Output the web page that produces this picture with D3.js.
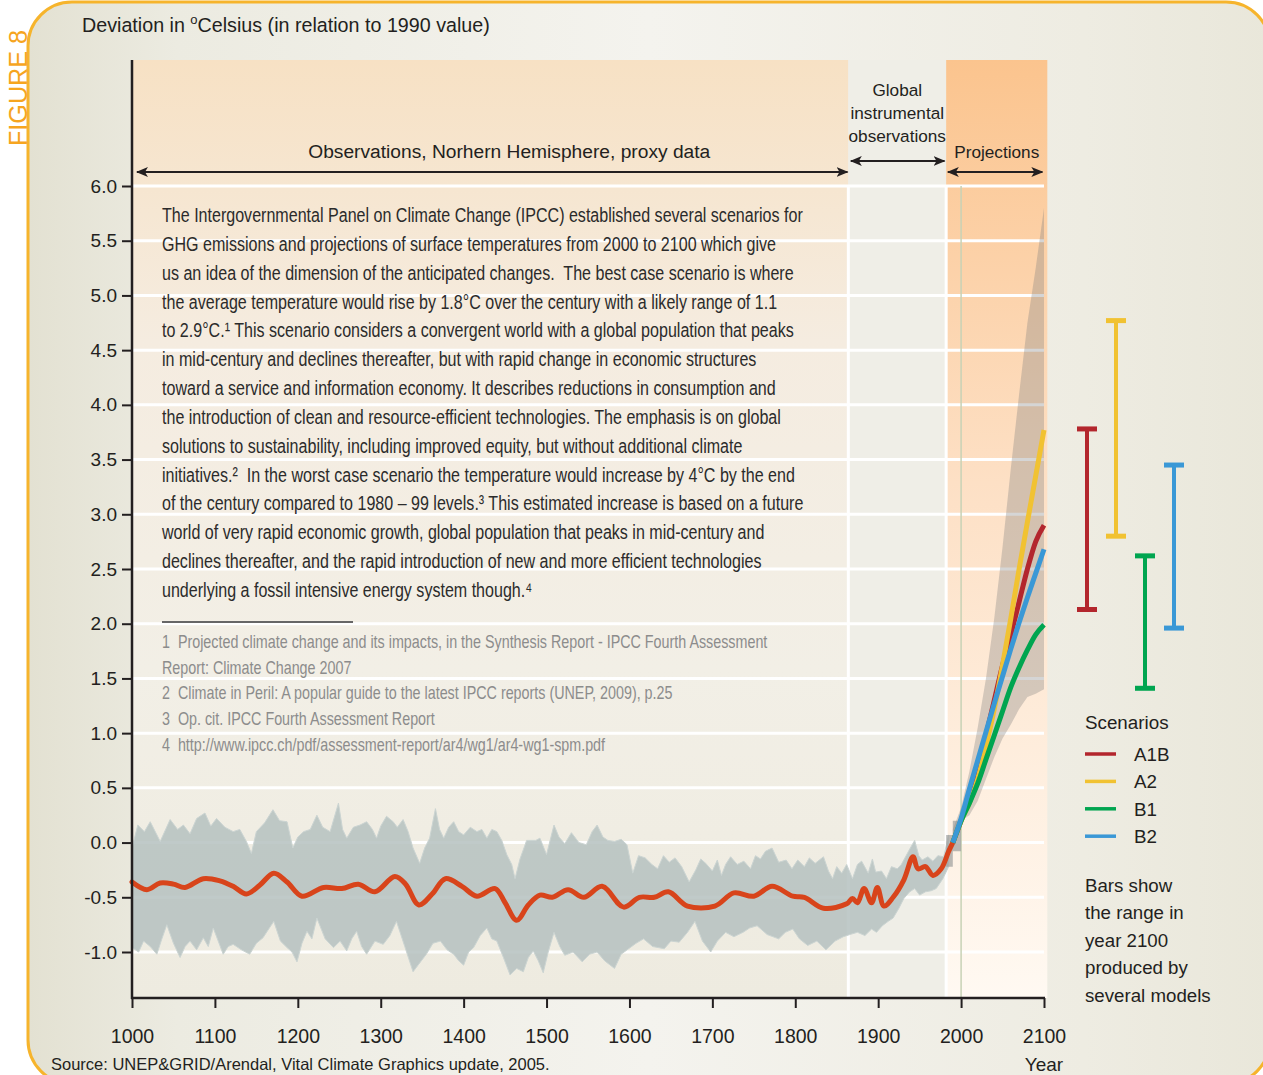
<!DOCTYPE html>
<html lang="en">
<head>
<meta charset="UTF-8">
<title>Deviation in Celsius</title>
<script src="https://cdn.jsdelivr.net/npm/d3@7"></script>
<style>
  html, body { margin: 0; padding: 0; background: #fff; }
  svg { display: block; }
</style>
</head>
<body>
<svg class="root"></svg>
<script>
// ---- data -------------------------------------------------------------
const yTicks = [-1.0, -0.5, 0.0, 0.5, 1.0, 1.5, 2.0, 2.5, 3.0, 3.5, 4.0, 4.5, 5.0, 5.5, 6.0];
const xTicks = [1000, 1100, 1200, 1300, 1400, 1500, 1600, 1700, 1800, 1900, 2000, 2100];

const periods = [
  {name: "proxy", from: 1000, to: 1864},
  {name: "instrumental", from: 1864, to: 1982},
  {name: "projection", from: 1982, to: 2104}
];

// upper / lower edge of the proxy reconstructions (grey band)
const bandUpper = [
  [1000,-0.05],[1007,0.16],[1015,0.10],[1022,0.19],[1034,0.01],[1046,0.21],[1055,0.12],[1062,0.16],
  [1070,0.08],[1078,0.22],[1088,0.27],[1095,0.15],[1102,0.22],[1112,0.14],[1122,0.10],[1130,0.12],
  [1138,0.01],[1144,-0.10],[1150,0.10],[1160,0.18],[1170,0.30],[1178,0.20],[1187,0.19],[1194,-0.05],
  [1200,0.05],[1207,0.10],[1215,0.12],[1223,0.25],[1230,0.14],[1239,0.10],[1249,0.36],[1254,0.12],
  [1259,0.04],[1267,0.14],[1275,0.16],[1283,0.19],[1290,0.12],[1295,0.04],[1300,0.15],[1307,0.24],
  [1315,0.19],[1320,0.14],[1327,0.21],[1333,0.10],[1339,-0.05],[1347,-0.19],[1353,-0.05],[1359,0.04],
  [1366,0.31],[1371,0.12],[1376,0.04],[1382,0.14],[1388,0.19],[1394,0.10],[1400,0.07],[1408,0.14],
  [1416,0.10],[1422,0.12],[1428,0.04],[1434,0.12],[1440,0.10],[1446,0.02],[1452,-0.11],[1458,-0.20],
  [1462,-0.33],[1468,-0.15],[1476,0.02],[1487,0.02],[1492,0.04],[1500,-0.11],[1509,0.16],[1515,0.05],
  [1522,-0.01],[1530,0.09],[1539,0.00],[1548,-0.02],[1555,0.10],[1561,0.16],[1568,0.05],[1574,0.02],
  [1582,0.01],[1590,0.03],[1597,-0.02],[1604,-0.28],[1611,-0.12],[1619,-0.14],[1627,-0.20],[1634,-0.24],
  [1641,-0.12],[1648,-0.18],[1655,-0.14],[1663,-0.22],[1672,-0.36],[1680,-0.25],[1686,-0.15],[1692,-0.19],
  [1700,-0.26],[1706,-0.16],[1711,-0.30],[1716,-0.20],[1722,-0.13],[1730,-0.20],[1738,-0.17],[1746,-0.24],
  [1752,-0.12],[1758,-0.15],[1764,-0.08],[1772,-0.05],[1780,-0.18],[1789,-0.16],[1796,-0.24],[1803,-0.16],
  [1811,-0.22],[1817,-0.14],[1824,-0.19],[1834,-0.13],[1840,-0.26],[1845,-0.33],[1850,-0.22],[1856,-0.28],
  [1862,-0.20],[1869,-0.33],[1875,-0.20],[1880,-0.17],[1888,-0.28],[1893,-0.15],[1897,-0.27],[1904,-0.26],
  [1910,-0.33],[1916,-0.22],[1923,-0.24],[1928,-0.20],[1933,-0.13],[1938,-0.06],[1944,0.02],[1949,-0.12],
  [1953,-0.16],[1960,-0.13],[1966,-0.17],[1972,-0.12],[1979,-0.13],[1985,0.07]
];
const bandLower = [
  [1000,-0.96],[1008,-1.00],[1014,-0.90],[1022,-0.95],[1030,-1.02],[1036,-0.88],[1042,-0.75],[1050,-0.92],
  [1058,-1.05],[1064,-0.95],[1070,-0.90],[1078,-0.98],[1086,-0.87],[1092,-0.95],[1098,-0.78],[1104,-0.90],
  [1110,-1.02],[1116,-0.95],[1122,-0.93],[1132,-0.98],[1142,-1.02],[1150,-0.92],[1158,-0.87],[1164,-0.80],
  [1171,-0.72],[1179,-0.90],[1187,-0.96],[1193,-1.00],[1199,-1.09],[1205,-0.92],[1211,-0.81],[1217,-0.88],
  [1223,-0.69],[1233,-0.88],[1243,-0.96],[1251,-0.90],[1259,-0.99],[1265,-0.88],[1271,-0.81],[1277,-0.95],
  [1283,-1.02],[1293,-0.90],[1303,-0.93],[1311,-0.85],[1319,-0.72],[1329,-0.95],[1339,-1.18],[1347,-1.10],
  [1355,-1.02],[1363,-0.92],[1372,-0.90],[1380,-0.98],[1388,-1.02],[1394,-1.08],[1400,-1.12],[1406,-1.00],
  [1412,-0.96],[1420,-0.85],[1428,-0.78],[1434,-0.88],[1440,-0.90],[1448,-1.05],[1456,-1.21],[1464,-1.15],
  [1472,-1.18],[1478,-1.05],[1484,-0.99],[1490,-1.08],[1496,-1.19],[1502,-1.00],[1509,-0.82],[1516,-0.95],
  [1522,-1.03],[1532,-1.00],[1543,-1.09],[1552,-1.02],[1561,-1.00],[1570,-1.08],[1582,-1.15],[1590,-1.02],
  [1599,-0.97],[1608,-0.92],[1617,-0.88],[1628,-0.95],[1642,-0.97],[1650,-0.90],[1660,-0.91],[1670,-0.82],
  [1679,-0.72],[1688,-0.90],[1698,-1.00],[1706,-0.90],[1716,-0.82],[1726,-0.86],[1737,-0.82],[1745,-0.78],
  [1754,-0.76],[1766,-0.84],[1780,-0.88],[1788,-0.82],[1797,-0.79],[1805,-0.88],[1815,-0.94],[1826,-0.90],
  [1837,-0.98],[1848,-0.90],[1858,-0.86],[1866,-0.84],[1875,-0.82],[1884,-0.85],[1892,-0.79],[1898,-0.82],
  [1905,-0.76],[1912,-0.72],[1918,-0.69],[1925,-0.60],[1931,-0.51],[1938,-0.45],[1944,-0.42],[1950,-0.48],
  [1957,-0.45],[1964,-0.44],[1970,-0.42],[1978,-0.33],[1985,-0.22]
];

// smoothed northern hemisphere series (red)
const smoothed = [
  [1000,-0.36],[1018,-0.43],[1034,-0.37],[1050,-0.38],[1064,-0.41],[1086,-0.33],[1106,-0.35],[1122,-0.40],
  [1138,-0.47],[1154,-0.39],[1171,-0.28],[1187,-0.36],[1205,-0.49],[1231,-0.41],[1253,-0.42],[1273,-0.38],
  [1293,-0.45],[1317,-0.31],[1330,-0.38],[1346,-0.57],[1362,-0.47],[1378,-0.33],[1398,-0.40],[1416,-0.49],
  [1438,-0.42],[1450,-0.55],[1464,-0.71],[1478,-0.57],[1492,-0.48],[1507,-0.50],[1526,-0.43],[1545,-0.50],
  [1567,-0.40],[1593,-0.59],[1612,-0.50],[1630,-0.50],[1647,-0.45],[1670,-0.58],[1703,-0.58],[1726,-0.46],
  [1750,-0.49],[1772,-0.40],[1797,-0.49],[1811,-0.50],[1834,-0.60],[1862,-0.56],[1869,-0.51],[1875,-0.55],
  [1883,-0.42],[1892,-0.55],[1899,-0.41],[1907,-0.58],[1918,-0.50],[1931,-0.34],[1942,-0.13],[1948,-0.24],
  [1957,-0.22],[1966,-0.30],[1976,-0.24],[1985,-0.08],[1990,0.00]
];

// instrumental uncertainty block around 1990: [year, low, high]
const recentBlock = [[1982,-0.22,0.07],[1990,-0.22,0.07],[1990,-0.08,0.20],[2000,-0.08,0.20]];

// model spread for the projections (grey fan): [year, low, high]
const fan = [
  [1990,-0.05,0.12],[2000,0.20,0.32],[2010,0.25,0.65],[2020,0.38,1.05],[2030,0.58,1.50],[2040,0.78,2.05],
  [2050,0.95,2.70],[2060,1.08,3.42],[2070,1.22,4.10],[2080,1.33,4.75],[2090,1.36,5.25],[2100,1.40,5.80]
];

const projYears = [1990, 2000, 2010, 2020, 2030, 2040, 2050, 2060, 2070, 2080, 2090, 2100];
const scenarios = ["A1B", "A2", "B1", "B2"];
const scenarioColors = ["#b3262d", "#f1c232", "#00a550", "#3a98d6"];
const projA1B = [0.00, 0.20, 0.42, 0.68, 0.98, 1.30, 1.62, 1.90, 2.20, 2.50, 2.75, 2.90];
const projA2  = [0.00, 0.20, 0.36, 0.58, 0.88, 1.22, 1.62, 2.05, 2.50, 2.93, 3.35, 3.77];
const projB1  = [0.00, 0.20, 0.36, 0.54, 0.76, 0.98, 1.20, 1.42, 1.60, 1.76, 1.90, 1.99];
const projB2  = [0.00, 0.22, 0.49, 0.75, 1.01, 1.27, 1.52, 1.77, 2.01, 2.24, 2.46, 2.68];
const rangeLow  = [2.13, 2.80, 1.41, 1.96];
const rangeHigh = [3.78, 4.77, 2.62, 3.45];

const bodyLines = [
  "The Intergovernmental Panel on Climate Change (IPCC) established several scenarios for",
  "GHG emissions and projections of surface temperatures from 2000 to 2100 which give",
  "us an idea of the dimension of the anticipated changes.  The best case scenario is where",
  "the average temperature would rise by 1.8°C over the century with a likely range of 1.1",
  "to 2.9°C.¹ This scenario considers a convergent world with a global population that peaks",
  "in mid-century and declines thereafter, but with rapid change in economic structures",
  "toward a service and information economy. It describes reductions in consumption and",
  "the introduction of clean and resource-efficient technologies. The emphasis is on global",
  "solutions to sustainability, including improved equity, but without additional climate",
  "initiatives.²  In the worst case scenario the temperature would increase by 4°C by the end",
  "of the century compared to 1980 – 99 levels.³ This estimated increase is based on a future",
  "world of very rapid economic growth, global population that peaks in mid-century and",
  "declines thereafter, and the rapid introduction of new and more efficient technologies",
  "underlying a fossil intensive energy system though.⁴"
];
const footnotes = [
  "1  Projected climate change and its impacts, in the Synthesis Report - IPCC Fourth Assessment",
  "Report: Climate Change 2007",
  "2  Climate in Peril: A popular guide to the latest IPCC reports (UNEP, 2009), p.25",
  "3  Op. cit. IPCC Fourth Assessment Report",
  "4  http://www.ipcc.ch/pdf/assessment-report/ar4/wg1/ar4-wg1-spm.pdf"
];
const notesText = ["Bars show", "the range in", "year 2100", "produced by", "several models"];

// ---- layout -------------------------------------------------------------
const width = 1263, height = 1075;
const plotTop = 60, plotBottom = 998;
const sans = "'Liberation Sans', Arial, sans-serif";
const narrow = "'Liberation Sans Narrow', 'Liberation Sans', sans-serif";
const ink = "#231f20";

const x = d3.scaleLinear().domain([1000, 2100]).range([132, 1044]);
const y = d3.scaleLinear().domain([-1, 6]).range([952, 186]);

const svg = d3.select(".root").attr("width", width).attr("height", height);
const defs = svg.append("defs");

function linGrad(id, vertical, stops) {
  const g = defs.append("linearGradient").attr("id", id)
    .attr("x1", 0).attr("y1", 0).attr("x2", vertical ? 0 : 1).attr("y2", vertical ? 1 : 0);
  stops.forEach(([o, c]) => g.append("stop").attr("offset", o).attr("stop-color", c));
}
linGrad("bg", false, [[0, "#e3e1d2"], [0.12, "#ecebe1"], [0.5, "#f4f3ee"], [0.85, "#eeece2"], [1, "#e9e7da"]]);
linGrad("proxyBg", true, [[0, "#f7e1c4"], [0.3, "#f5ece0"], [0.65, "#f2efe6"], [1, "#eeebe0"]]);
linGrad("projBg", true, [[0, "#fbc48e"], [0.45, "#fde0c5"], [1, "#fff9f2"]]);

const arrowPath = "M0,0 L12,5 L0,10 L3,5 Z";
defs.append("marker").attr("id", "head").attr("markerUnits", "userSpaceOnUse")
  .attr("markerWidth", 12).attr("markerHeight", 10).attr("refX", 11).attr("refY", 5)
  .attr("orient", "auto-start-reverse")
  .append("path").attr("d", arrowPath).attr("fill", ink);

// ---- frame --------------------------------------------------------------
svg.append("rect").attr("width", width).attr("height", height).attr("fill", "#fff");
svg.append("rect")
  .attr("x", 28).attr("y", 2).attr("width", 1242).attr("height", 1082).attr("rx", 44)
  .attr("fill", "url(#bg)").attr("stroke", "#f6b42c").attr("stroke-width", 3);

svg.append("text")
  .attr("transform", "translate(27,146) rotate(-90)")
  .attr("font-family", narrow).attr("font-size", 26).attr("fill", "#f6a51f")
  .attr("textLength", 116).attr("lengthAdjust", "spacingAndGlyphs")
  .text("FIGURE 8");

// ---- plot backgrounds ---------------------------------------------------
const bgFill = {proxy: "url(#proxyBg)", instrumental: "#efeee7", projection: "url(#projBg)"};
svg.append("g").selectAll("rect").data(periods).join("rect")
  .attr("x", d => x(d.from)).attr("y", plotTop)
  .attr("width", d => x(d.to) - x(d.from)).attr("height", plotBottom - plotTop)
  .attr("fill", d => bgFill[d.name]);

// gridlines
svg.append("g").selectAll("line").data(yTicks).join("line")
  .attr("x1", x(1000)).attr("x2", x(2100))
  .attr("y1", d => y(d)).attr("y2", d => y(d))
  .attr("stroke", "#fff").attr("stroke-width", 3);

// period separators
svg.append("g").selectAll("line").data(periods.slice(1)).join("line")
  .attr("x1", d => x(d.from)).attr("x2", d => x(d.from))
  .attr("y1", y(6)).attr("y2", plotBottom)
  .attr("stroke", "#fff").attr("stroke-width", 3);
svg.append("line")
  .attr("x1", x(2000)).attr("x2", x(2000)).attr("y1", y(6)).attr("y2", plotBottom)
  .attr("stroke", "#c8d2b6").attr("stroke-width", 1.5);

// ---- marks ---------------------------------------------------------------
const line = d3.line().x(d => x(d[0])).y(d => y(d[1]));

svg.append("path")
  .attr("d", line(bandUpper.concat(bandLower.slice().reverse())) + "Z")
  .attr("fill", "#b5c1bf").attr("fill-opacity", 0.85)
  .attr("stroke", "#cbd4d2").attr("stroke-width", 1);

const areaLH = d3.area().x(d => x(d[0])).y0(d => y(d[1])).y1(d => y(d[2]));
svg.append("path").attr("d", areaLH(recentBlock))
  .attr("fill", "#9d9e9c").attr("fill-opacity", 0.7);

svg.append("path").attr("d", areaLH(fan))
  .attr("fill", "#7c7c7c").attr("fill-opacity", 0.32);

svg.append("path")
  .attr("d", line.curve(d3.curveCatmullRom)(smoothed))
  .attr("fill", "none").attr("stroke", "#d8441b").attr("stroke-width", 5)
  .attr("stroke-linecap", "round").attr("stroke-linejoin", "round");
line.curve(d3.curveLinear);

const projSeries = [projA1B, projA2, projB1, projB2];
const scenLine = d3.line().curve(d3.curveMonotoneX).x((d, i) => x(projYears[i])).y(d => y(d));
svg.append("g").selectAll("path").data(projSeries).join("path")
  .attr("d", d => scenLine(d))
  .attr("fill", "none").attr("stroke", (d, i) => scenarioColors[i]).attr("stroke-width", 5);

// ---- axes ----------------------------------------------------------------
const yAxis = svg.append("g")
  .attr("transform", `translate(${x(1000)},0)`)
  .call(d3.axisLeft(y).tickValues(yTicks).tickFormat(d => d.toFixed(1)).tickSize(10).tickPadding(5));
yAxis.select(".domain").remove();
yAxis.selectAll("line").attr("stroke", ink).attr("stroke-width", 2);
yAxis.selectAll("text").attr("font-family", sans).attr("font-size", 19).attr("fill", ink);
svg.append("line").attr("x1", x(1000)).attr("x2", x(1000))
  .attr("y1", plotTop).attr("y2", plotBottom + 1).attr("stroke", ink).attr("stroke-width", 2.5);

const xAxis = svg.append("g")
  .attr("transform", `translate(0,${plotBottom})`)
  .call(d3.axisBottom(x).tickValues(xTicks).tickFormat(d3.format("d")).tickSize(10).tickPadding(21));
xAxis.select(".domain").remove();
xAxis.selectAll("line").attr("stroke", ink).attr("stroke-width", 2);
xAxis.selectAll("text").attr("font-family", sans).attr("font-size", 19.5).attr("fill", ink);
svg.append("line").attr("x1", x(1000) - 1).attr("x2", x(2100) + 1)
  .attr("y1", plotBottom).attr("y2", plotBottom).attr("stroke", ink).attr("stroke-width", 2.5);

// ---- titles and period labels --------------------------------------------
const title = svg.append("text").attr("x", 82).attr("y", 32)
  .attr("font-family", sans).attr("font-size", 19.7).attr("fill", ink);
title.append("tspan").text("Deviation in ");
title.append("tspan").attr("font-size", 13).attr("dy", -8).text("o");
title.append("tspan").attr("dy", 8).text("Celsius (in relation to 1990 value)");

const labelText = (tx, ty, txt, size) => svg.append("text")
  .attr("x", tx).attr("y", ty).attr("text-anchor", "middle")
  .attr("font-family", sans).attr("font-size", size).attr("fill", ink).text(txt);

labelText(x(1455), 158, "Observations, Norhern Hemisphere, proxy data", 19.2);
["Global", "instrumental", "observations"].forEach((t, i) =>
  labelText(x((periods[1].from + periods[1].to) / 2), 96 + i * 23, t, 17.2));
labelText(x((periods[2].from + periods[2].to) / 2), 158, "Projections", 17.2);

const arrow = (a, b, ay) => svg.append("line")
  .attr("x1", x(a)).attr("x2", x(b)).attr("y1", ay).attr("y2", ay)
  .attr("stroke", ink).attr("stroke-width", 2)
  .attr("marker-start", "url(#head)").attr("marker-end", "url(#head)");
arrow(periods[0].from + 6, periods[0].to - 1, 172);
arrow(periods[1].from + 3, periods[1].to - 2, 161);
arrow(periods[2].from + 2, periods[2].to - 6, 172);

// ---- explanatory text ------------------------------------------------------
const body = svg.append("g").attr("font-family", narrow).attr("font-size", 21).attr("fill", "#2b2b2b");
const bodyText = body.selectAll("text").data(bodyLines).join("text")
  .attr("x", 0).attr("y", (d, i) => 222 + i * 28.85)
  .style("white-space", "pre").text(d => d);
const bodyScale = 641 / bodyText.node().getComputedTextLength();
body.attr("transform", `translate(162,0) scale(${bodyScale},1)`);

svg.append("line").attr("x1", 162).attr("x2", 353).attr("y1", 622).attr("y2", 622)
  .attr("stroke", "#666").attr("stroke-width", 2);

const notes = svg.append("g").attr("font-family", narrow).attr("font-size", 18).attr("fill", "#8c8c8c");
const noteText = notes.selectAll("text").data(footnotes).join("text")
  .attr("x", 0).attr("y", (d, i) => 648 + i * 25.7)
  .style("white-space", "pre").text(d => d);
const noteScale = 606 / noteText.node().getComputedTextLength();
notes.attr("transform", `translate(162,0) scale(${noteScale},1)`);

// ---- range bars and legend ----------------------------------------------
const bx = d3.scalePoint().domain(scenarios).range([1087, 1174]);
const bars = svg.append("g").selectAll("g").data(scenarios).join("g")
  .attr("stroke", (d, i) => scenarioColors[i]);
bars.append("line")
  .attr("x1", d => bx(d)).attr("x2", d => bx(d))
  .attr("y1", (d, i) => y(rangeHigh[i])).attr("y2", (d, i) => y(rangeLow[i]))
  .attr("stroke-width", 4);
bars.selectAll(".cap").data((d, i) => [[d, rangeHigh[i]], [d, rangeLow[i]]]).join("line")
  .attr("class", "cap")
  .attr("x1", d => bx(d[0]) - 10).attr("x2", d => bx(d[0]) + 10)
  .attr("y1", d => y(d[1])).attr("y2", d => y(d[1]))
  .attr("stroke-width", 5);

svg.append("text").attr("x", 1085).attr("y", 729)
  .attr("font-family", sans).attr("font-size", 18.8).attr("fill", ink).text("Scenarios");
const legend = svg.append("g").selectAll("g").data(scenarios).join("g")
  .attr("transform", (d, i) => `translate(1085,${754 + i * 27.4})`);
legend.append("line").attr("x1", 0).attr("x2", 31)
  .attr("stroke", (d, i) => scenarioColors[i]).attr("stroke-width", 3.5);
legend.append("text").attr("x", 49).attr("y", 7)
  .attr("font-family", sans).attr("font-size", 18.8).attr("fill", ink).text(d => d);

svg.append("g").selectAll("text").data(notesText).join("text")
  .attr("x", 1085).attr("y", (d, i) => 892 + i * 27.4)
  .attr("font-family", sans).attr("font-size", 18.7).attr("fill", ink).text(d => d);

// ---- bottom labels --------------------------------------------------------
labelText(x(2100), 1071, "Year", 19);
svg.append("text").attr("x", 51).attr("y", 1070)
  .attr("font-family", sans).attr("font-size", 16.5).attr("fill", ink)
  .text("Source: UNEP&GRID/Arendal, Vital Climate Graphics update, 2005.");
</script>
</body>
</html>
